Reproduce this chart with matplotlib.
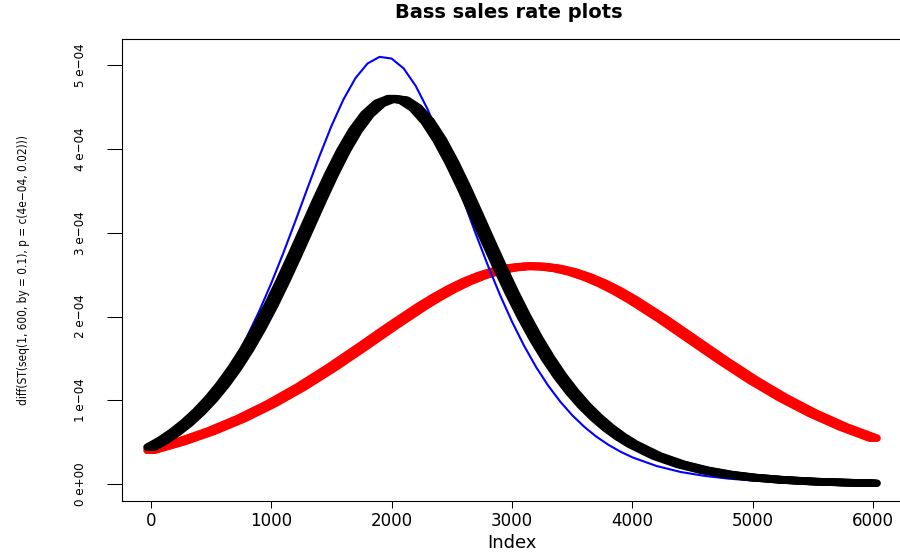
import matplotlib
matplotlib.use("Agg")
import matplotlib.pyplot as plt
from matplotlib import font_manager
from matplotlib import patheffects as pe

# sales rate per step, in units of 1e-4, against the step index
blue_x = [0, 100, 200, 300, 400, 500, 600, 700, 800, 900, 1000, 1100, 1200,
          1300, 1400, 1500, 1600, 1700, 1800, 1900, 2000, 2100, 2200, 2300,
          2400, 2500, 2600, 2700, 2800, 2900, 3000, 3100, 3200, 3300, 3400,
          3500, 3600, 3700, 3800, 3900, 4000, 4200, 4400, 4600, 4800, 5000,
          5500, 6000]
blue_y = [0.420, 0.508, 0.613, 0.737, 0.885, 1.059, 1.261, 1.495, 1.762, 2.062,
          2.394, 2.754, 3.134, 3.524, 3.908, 4.270, 4.587, 4.842, 5.016, 5.095,
          5.075, 4.957, 4.749, 4.467, 4.129, 3.757, 3.368, 2.980, 2.607, 2.257,
          1.938, 1.651, 1.397, 1.176, 0.986, 0.823, 0.685, 0.568, 0.471, 0.389,
          0.321, 0.218, 0.147, 0.100, 0.067, 0.045, 0.017, 0.006]

black_x = [0, 100, 200, 300, 400, 500, 600, 700, 800, 900, 1000, 1100, 1200,
           1300, 1400, 1500, 1600, 1700, 1800, 1900, 2000, 2100, 2200, 2300,
           2400, 2500, 2600, 2700, 2800, 2900, 3000, 3100, 3200, 3300, 3400,
           3500, 3600, 3700, 3800, 3900, 4000, 4200, 4400, 4600, 4800, 5000,
           5250, 5500, 5750, 6000]
black_y = [0.442, 0.522, 0.619, 0.732, 0.864, 1.016, 1.191, 1.390, 1.614, 1.863,
           2.136, 2.431, 2.742, 3.062, 3.383, 3.691, 3.975, 4.220, 4.412, 4.541,
           4.598, 4.579, 4.485, 4.324, 4.103, 3.837, 3.539, 3.223, 2.901, 2.585,
           2.281, 1.997, 1.735, 1.499, 1.287, 1.101, 0.937, 0.796, 0.673, 0.568,
           0.479, 0.338, 0.238, 0.167, 0.116, 0.081, 0.052, 0.033, 0.021, 0.013]

red_x = [0, 250, 500, 750, 1000, 1250, 1500, 1750, 2000, 2250, 2375, 2500,
         2625, 2750, 2875, 3000, 3125, 3250, 3375, 3500, 3625, 3750, 3875,
         4000, 4250, 4500, 4750, 5000, 5250, 5500, 5750, 6000]
red_y = [0.405, 0.508, 0.633, 0.783, 0.960, 1.163, 1.390, 1.633, 1.882, 2.121,
         2.230, 2.330, 2.417, 2.489, 2.544, 2.581, 2.599, 2.596, 2.573, 2.531,
         2.470, 2.394, 2.303, 2.200, 1.970, 1.723, 1.476, 1.242, 1.030, 0.844,
         0.684, 0.550]

x_ticks = [0, 1000, 2000, 3000, 4000, 5000, 6000]
x_tick_labels = ["0", "1000", "2000", "3000", "4000", "5000", "6000"]
y_ticks = [0, 1, 2, 3, 4, 5]
y_tick_labels = ["0 e+00", "1 e\u221204", "2 e\u221204", "3 e\u221204",
                 "4 e\u221204", "5 e\u221204"]


def narrow_font():
    """Pick a narrow face for the vertical texts, with sizes to suit it."""
    for fam, stretch, key in (("Liberation Sans Narrow", "normal", "Narrow"),
                              ("DejaVu Sans", "condensed", "Condensed")):
        prop = font_manager.FontProperties(family=fam, stretch=stretch)
        try:
            path = font_manager.findfont(prop, fallback_to_default=False)
        except ValueError:
            continue
        if key in path:
            return dict(family=fam, fontstretch=stretch), 9.5, 8.5
    return dict(family="DejaVu Sans"), 8, 7


narrow, ytick_size, ylab_size = narrow_font()

# wide point trail: the same path stroked at a few sideways offsets
smear = [pe.Stroke(offset=(d, 0)) for d in (-2.7, -1.35, 0, 1.35, 2.7)]

fig = plt.figure(figsize=(9, 5.56), dpi=100)
ax = fig.add_axes([122 / 900, 55 / 556, 779 / 900, 462 / 556])

ax.plot(red_x, red_y, color="#ff0000", lw=5.4, solid_capstyle="round",
        solid_joinstyle="round", path_effects=smear, zorder=2)
ax.plot(blue_x, blue_y, color="#0000ff", lw=1.5, zorder=3)
ax.plot(black_x, black_y, color="black", lw=5.4, solid_capstyle="round",
        solid_joinstyle="round", path_effects=smear, zorder=4)

ax.set_xlim(-238.6, 6229.6)
ax.set_ylim(-0.199, 5.308)

ax.set_xticks(x_ticks, labels=x_tick_labels)
ax.set_yticks(y_ticks, labels=y_tick_labels, rotation=90, va="center",
              fontsize=ytick_size, **narrow)
ax.tick_params(axis="x", length=5, width=0.75, pad=3, labelsize=12)
ax.tick_params(axis="y", length=10.8, width=0.75, pad=14.5)
for side in ax.spines.values():
    side.set_linewidth(0.8)

ax.set_xlabel("Index", fontsize=13)
ax.xaxis.set_label_coords(0.5, -0.1017)
ax.xaxis.label.set_verticalalignment("baseline")

ax.set_ylabel("diff(ST(seq(1, 600, by = 0.1), p = c(4e\u221204, 0.02)))",
              fontsize=ylab_size, **narrow)
ax.yaxis.set_label_coords((23 - 122) / 779, 0.5)
ax.yaxis.label.set_verticalalignment("center")

fig.text(509 / 900, 1 - 18 / 556, "Bass sales rate plots", ha="center",
         va="baseline", fontsize=14, fontweight="bold")

fig.savefig("out.png", dpi=100)
